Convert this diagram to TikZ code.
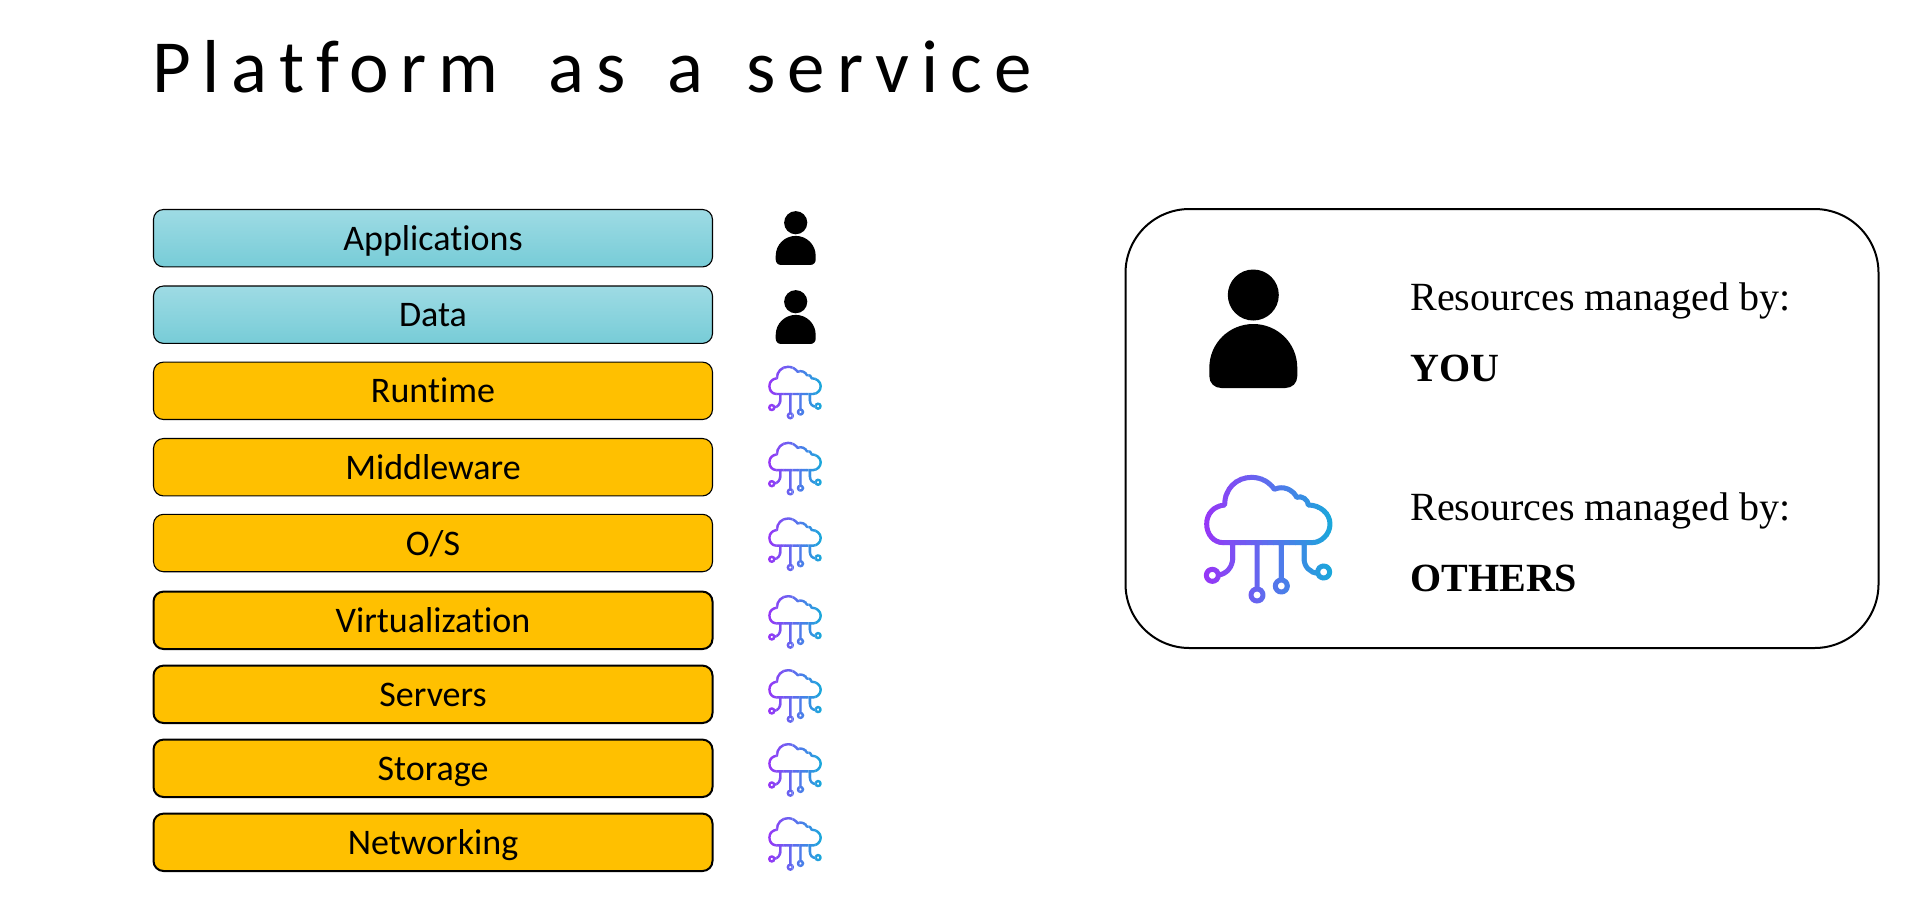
\documentclass[tikz,border=0pt]{standalone}
\usepackage{fontspec}
\setmainfont{Liberation Serif}
\newfontfamily\gill[Ligatures=NoCommon]{Carlito}
\newfontfamily\gilltitle[Ligatures=NoCommon,LetterSpace=15.8,WordSpace=1.75]{Carlito}
\definecolor{tealtop}{HTML}{9EDBE4}
\definecolor{tealbot}{HTML}{77CCD7}
\definecolor{amber}{HTML}{FFC000}
\definecolor{cA}{HTML}{9A33F7}
\definecolor{cB}{HTML}{5C6FEE}
\definecolor{cC}{HTML}{18A9DA}
\tikzset{
  layerbox/.style={draw=black,rounded corners=5pt,minimum width=279.5pt,minimum height=28.7pt,inner sep=0pt,text height=13pt,text depth=1pt,font=\gill\fontsize{18}{20}\selectfont,text=black},
  tealbox/.style={layerbox,line width=.55pt,top color=tealtop,bottom color=tealbot},
  thinamber/.style={layerbox,line width=.55pt,fill=amber},
  thickamber/.style={layerbox,line width=1pt,fill=amber},
  legendtext/.style={anchor=base west,inner sep=0pt,font=\fontsize{20}{24}\selectfont},
}
\newcommand\cloudstrokes{%
  \path[draw,line cap=round,line join=round]
   (130,278) .. controls (100,278) and (80,252) .. (80,222)
   .. controls (80,192) and (100,168) .. (134,165)
   .. controls (134,115) and (170,82) .. (215,82)
   .. controls (245,82) and (270,98) .. (283,118)
   .. controls (310,105) and (340,120) .. (350,142)
   .. controls (365,135) and (385,150) .. (385,165)
   .. controls (420,165) and (450,190) .. (450,222)
   .. controls (450,252) and (425,278) .. (395,278) -- cycle
   (158,285) -- (158,325) .. controls (158,350) and (140,372) .. (116,375)
   (97,376) circle[radius=18]
   (231,285) -- (231,417) (231,435) circle[radius=18]
   (304,285) -- (304,390) (304,408) circle[radius=18]
   (372,285) -- (372,325) .. controls (372,350) and (390,368) .. (413,370)
   (431,366) circle[radius=18];
}
% #1 x origin, #2 y origin, #3 scale, #4 line width
\newcommand\cloudicon[4]{%
  \begin{scope}[shift={(#1,#2)},scale=#3,line width=#4]
  \foreach \i in {0,...,23}{%
    \pgfmathsetmacro\xa{65+\i*16.5}
    \pgfmathsetmacro\xb{65+(\i+1)*16.5+1.5}
    \pgfmathsetmacro\t{(\i+.5)/24}
    \pgfmathsetmacro\pa{\t<.5?200*\t:0}
    \pgfmathsetmacro\pb{\t<.5?0:200*(\t-.5)}
    \ifdim\t pt<.5pt \colorlet{slice}{cB!\pa!cA}\else\colorlet{slice}{cC!\pb!cB}\fi
    \begin{scope}
      \clip (\xa,60) rectangle (\xb,470);
      \begin{scope}[draw=slice]\cloudstrokes\end{scope}
    \end{scope}
  }
  \end{scope}
}
% #1 x head centre, #2 y head centre, #3 scale
\newcommand\personicon[3]{%
  \begin{scope}[shift={(#1,#2)},scale=#3]
  \fill[black] (0,0) circle[radius=25.5];
  \fill[black] (-44,73) .. controls (-44,48) and (-24,29) .. (0,29)
     .. controls (24,29) and (44,48) .. (44,73) -- (44,81)
     .. controls (44,88) and (39,93) .. (32,93) -- (-32,93)
     .. controls (-39,93) and (-44,88) .. (-44,81) -- cycle;
  \end{scope}
}
\begin{document}
\begin{tikzpicture}[x=.5pt,y=-.5pt]
\useasboundingbox (0,0) rectangle (1920,901);
\node[anchor=base west,inner sep=0pt,font=\gilltitle\fontsize{37.5}{40}\selectfont] (title) at (152,92) {Platform as\kern-4.3pt{} a\kern-3.7pt{} service};

\node[tealbox] (apps) at (433,238.2) {Applications};
\node[tealbox] (data) at (433,314.7) {Data};
\node[thinamber] (runtime) at (433,390.8) {Runtime};
\node[thinamber] (middle) at (433,467.2) {Middleware};
\node[thinamber] (os) at (433,543) {O/S};
\node[thickamber] (virt) at (433,620.3) {Virtualization};
\node[thickamber] (servers) at (433,694.3) {Servers};
\node[thickamber] (storage) at (433,768.3) {Storage};
\node[thickamber] (network) at (433,842.3) {Networking};

\personicon{795.7}{222.7}{.4545}
\personicon{795.7}{301.7}{.4545}
\foreach \oy in {355.4,431.5,507.1,584.8,658.8,732.8,806.8}{\cloudicon{758.3}{\oy}{.1387}{1.2pt}}

\node[draw=black,line width=1pt,rounded corners=32pt,minimum width=376.5pt,minimum height=219.5pt,inner sep=0pt] (legend) at (1502,428.5) {};
\personicon{1253.3}{295}{1}
\cloudicon{1180}{450}{.3333}{2.5pt}
\node[legendtext] (res1) at (1410,310) {Resources managed by:};
\node[legendtext,font=\bfseries\fontsize{20}{24}\selectfont] (you) at (1410,381) {YOU};
\node[legendtext] (res2) at (1410,520) {Resources managed by:};
\node[legendtext,font=\bfseries\fontsize{20}{24}\selectfont] (others) at (1410,591) {OTHERS};
\end{tikzpicture}
\end{document}
